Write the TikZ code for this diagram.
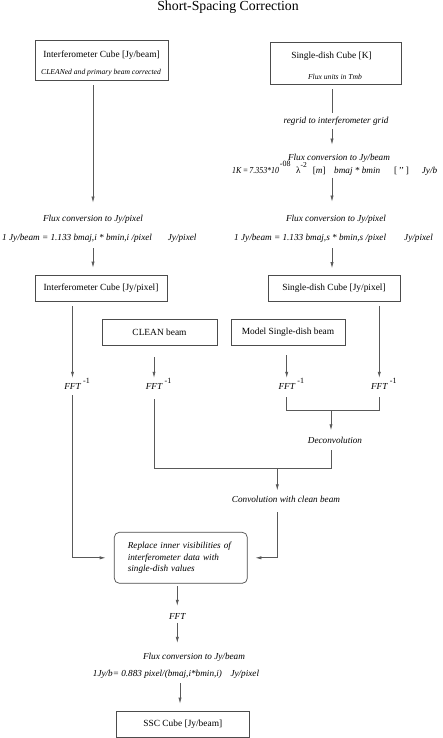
\documentclass[tikz,border=0pt]{standalone}
\usepackage{fontspec}
\setmainfont{Liberation Serif}
\usetikzlibrary{arrows.meta}

% fixed-width piece of a formula line
\newcommand{\seg}[2]{\makebox[#1pt][l]{#2}}
% FFT with a raised -1 that takes no room
\newcommand{\fftinv}{FFT\rlap{\smash{\hspace{2.5pt}\raisebox{6pt}{\upshape\fontsize{8}{8}\selectfont -1}}}}

\begin{document}
\begin{tikzpicture}[x=1pt,y=-1pt,
    wire/.style={draw=black!65, line width=0.7pt},
    arr/.style={wire, -{Latex[length=6pt,width=3.2pt]}},
    cube/.style={draw=black!70, line width=0.7pt, inner sep=0pt, minimum height=26pt,
                 font=\fontsize{9.4}{11}\selectfont},
    boxtxt/.style={inner sep=0pt, font=\fontsize{9.4}{11}\selectfont},
    boxnote/.style={inner sep=0pt, font=\fontsize{7.6}{9}\selectfont\itshape},
    note/.style={inner sep=1pt, font=\fontsize{9.2}{11}\selectfont\itshape},
    formula/.style={note, anchor=base west}]
  \useasboundingbox (0,0) rectangle (443,738);

  \node[font=\fontsize{13.8}{16}\selectfont] (title) at (228,7) {Short-Spacing Correction};

  % input cubes
  \node[cube, minimum width=133pt, minimum height=39.3pt] (intjy) at (101.5,60.3) {};
  \node[boxtxt] (intjyname) at (101.5,55) {Interferometer Cube [Jy/beam]};
  \node[boxnote] (intjynote) at (101,72.7) {CLEANed and primary beam corrected};
  \node[cube, minimum width=131pt, minimum height=41.3pt] (sdk) at (336.2,63.3) {};
  \node[boxtxt] (sdkname) at (331.5,56) {Single-dish Cube [K]};
  \node[boxnote] (sdknote) at (335,77.3) {Flux units in Tmb};

  % single-dish branch
  \node[note] (regrid) at (336,121.7) {regrid to interferometer grid};
  \node[note] (fluxbmR) at (339,158) {Flux conversion to Jy/beam};
  \node[formula] (formK) at (231,173.5) {\seg{47.7}{\scalebox{0.86}[1]{1K\,=\,7.353*10}}\seg{16.3}{\raisebox{7pt}{\upshape\fontsize{8}{8}\selectfont -08}}\seg{16.7}{\upshape λ\raisebox{6pt}{\fontsize{7.5}{8}\selectfont -2}}\seg{21.3}{\upshape [\textit{m}]}\seg{60}{bmaj * bmin}\seg{27.7}{\upshape [\,'{}'\,]}Jy/b};
  \node[note] (fluxpixR) at (336,219) {Flux conversion to Jy/pixel};
  \node[formula] (formR) at (233,240) {\seg{170}{1 Jy/beam = 1.133 bmaj,s * bmin,s /pixel}Jy/pixel};

  % interferometer branch
  \node[note] (fluxpixL) at (93,219) {Flux conversion to Jy/pixel};
  \node[formula] (formL) at (1,240) {\seg{165.7}{1 Jy/beam = 1.133 bmaj,i * bmin,i /pixel}Jy/pixel};

  \node[cube, minimum width=132pt] (intpix) at (101,288.7) {Interferometer Cube [Jy/pixel]};
  \node[cube, minimum width=132pt] (sdpix) at (334,288.5) {Single-dish Cube [Jy/pixel]};
  \node[cube, minimum width=115pt] (cleanb) at (159.5,332) {CLEAN beam};
  \node[cube, minimum width=114pt] (modelb) at (288,332) {Model Single-dish beam};

  \node[note] (fft1) at (72.5,386.7) {\fftinv};
  \node[note] (fft2) at (154,386.7) {\fftinv};
  \node[note] (fft3) at (286.7,386.7) {\fftinv};
  \node[note] (fft4) at (379.3,386.7) {\fftinv};

  \node[note] (deconv) at (335,440.7) {Deconvolution};
  \node[note] (conv) at (286,499.3) {Convolution with clean beam};

  \node[cube, rounded corners=5pt, align=left, text width=106pt, inner xsep=13.5pt,
        minimum height=51pt, font=\fontsize{9.2}{11.6}\selectfont\itshape] (replace) at (180.8,557.8)
        {Replace inner visibilities of\\interferometer data with\\single-dish values};

  \node[note] (fft5) at (177.3,616) {FFT};
  \node[note] (fluxbmB) at (194,657.3) {Flux conversion to Jy/beam};
  \node[formula] (formB) at (91.7,676) {\seg{137.6}{1Jy/b= 0.883 pixel/(bmaj,i*bmin,i)}Jy/pixel};
  \node[cube, minimum width=133pt] (ssc) at (182.8,724) {SSC Cube [Jy/beam]};

  % columns and joints of the connectors
  \coordinate (intcol) at (93,0);
  \coordinate (sdcol) at (332,0);
  \coordinate (outcol) at (180,0);
  \coordinate (fftjoin) at (331,410.7);
  \coordinate (convjoin) at (277.3,468.7);

  \draw[arr, shorten <=5pt, shorten >=11pt] (intjy.south -| intcol) -- (fluxpixL.north -| intcol);
  \draw[arr, shorten <=5pt, shorten >=7.7pt] (formL.south -| intcol) -- (intpix.north -| intcol);

  \draw[wire, shorten <=5pt, shorten >=3.6pt] (sdk.south -| sdcol) -- (regrid.north -| sdcol);
  \draw[arr, shorten <=2.2pt, shorten >=8pt] (regrid.south -| sdcol) -- (fluxbmR.north -| sdcol);
  \draw[arr, shorten <=1pt, shorten >=12pt] (formK.south -| sdcol) -- (fluxpixR.north -| sdcol);
  \draw[arr, shorten <=5pt, shorten >=7pt] (formR.south -| sdcol) -- (sdpix.north -| sdcol);

  \draw[arr, shorten <=4.3pt, shorten >=4.7pt] (intpix.south -| fft1) -- (fft1.north);
  \draw[arr, shorten <=12pt, shorten >=4.7pt] (cleanb.south -| fft2) -- (fft2.north);
  \draw[arr, shorten <=10pt, shorten >=4.7pt] (modelb.south -| fft3) -- (fft3.north);
  \draw[arr, shorten <=4pt, shorten >=4.7pt] (sdpix.south -| fft4) -- (fft4.north);

  \draw[wire, shorten <=6.3pt, shorten >=6.3pt] (fft3.south) |- (fftjoin) -| (fft4.south);
  \draw[arr, shorten >=6pt] (fftjoin) -- (fftjoin |- deconv.north);
  \draw[wire, shorten <=5.2pt, shorten >=8.3pt] (deconv.south -| fftjoin) -- (fftjoin |- convjoin) -| (fft2.south);
  \draw[arr, shorten >=4.5pt] (convjoin) -- (convjoin |- conv.north);

  \draw[arr, shorten <=4.3pt, shorten >=8.3pt] (fft1.south) |- (replace.west);
  \draw[arr, shorten <=8.3pt, shorten >=7.7pt] (conv.south -| convjoin) |- (replace.east);

  \draw[arr, shorten <=2.7pt, shorten >=6pt] (replace.south -| fft5) -- (fft5.north);
  \draw[arr, shorten <=2.7pt, shorten >=9pt] (fft5.south) -- (fluxbmB.north -| fft5);
  \draw[arr, shorten <=4pt, shorten >=7pt] (formB.south -| outcol) -- (ssc.north -| outcol);
\end{tikzpicture}
\end{document}
